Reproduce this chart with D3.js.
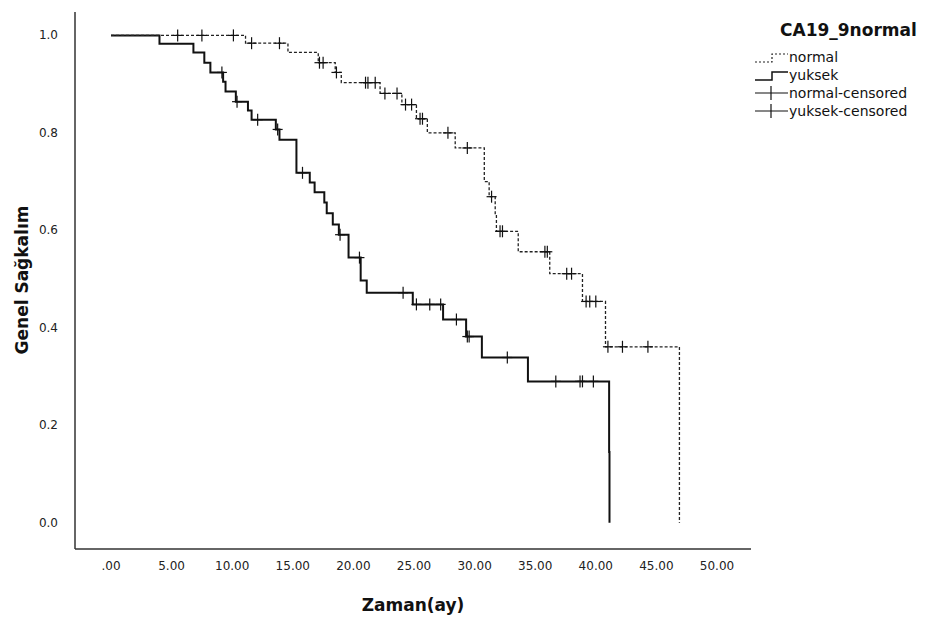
<!DOCTYPE html>
<html>
<head>
<meta charset="utf-8">
<script src="https://cdn.jsdelivr.net/npm/d3@7"></script>
<style>
  body { margin: 0; background: #fff; }
  text { font-family: "DejaVu Sans", sans-serif; }
</style>
</head>
<body>
<script>
// Kaplan-Meier steps: [time (ay), survival]
var normalSteps = [[0, 1], [11.1, 0.984], [14.6, 0.965], [17.1, 0.944], [18.5, 0.924], [19.0, 0.903],
                   [22.2, 0.881], [24.0, 0.858], [25.2, 0.829], [26.1, 0.800], [28.4, 0.769],
                   [30.8, 0.700], [31.2, 0.669], [31.7, 0.632], [31.8, 0.598], [33.6, 0.556],
                   [36.2, 0.511], [38.9, 0.454], [40.8, 0.361], [46.9, 0]];
var normalCensored = [[5.5, 1], [7.5, 1], [10.1, 1], [11.6, 0.984], [13.9, 0.984], [17.2, 0.944],
                      [17.5, 0.944], [18.6, 0.924], [21.0, 0.903], [21.2, 0.903], [21.8, 0.903],
                      [22.6, 0.881], [23.6, 0.881], [24.3, 0.858], [24.8, 0.858], [25.5, 0.829],
                      [25.7, 0.829], [27.8, 0.800], [29.4, 0.769], [31.4, 0.669], [32.1, 0.598],
                      [32.3, 0.598], [35.8, 0.556], [36.0, 0.556], [37.6, 0.511], [38.0, 0.511],
                      [39.2, 0.454], [39.5, 0.454], [40.0, 0.454], [41.0, 0.361], [42.2, 0.361],
                      [44.3, 0.361]];
var yuksekSteps = [[0, 1], [4.0, 0.983], [6.8, 0.965], [7.7, 0.944], [8.2, 0.924], [9.25, 0.905],
                   [9.45, 0.885], [10.3, 0.864], [11.3, 0.846], [11.6, 0.827], [13.6, 0.807],
                   [13.9, 0.786], [15.3, 0.718], [16.4, 0.698], [16.8, 0.678], [17.6, 0.657],
                   [17.8, 0.635], [18.3, 0.612], [18.8, 0.591], [19.6, 0.544], [20.6, 0.497],
                   [21.1, 0.472], [24.9, 0.448], [27.4, 0.417], [29.3, 0.382], [30.6, 0.339],
                   [34.4, 0.290], [41.1, 0.145], [41.13, 0]];
var yuksekCensored = [[9.15, 0.924], [10.4, 0.864], [12.1, 0.827], [13.75, 0.807], [15.8, 0.718],
                      [18.9, 0.591], [20.5, 0.544], [24.1, 0.472], [25.2, 0.448], [26.3, 0.448],
                      [27.2, 0.448], [28.5, 0.417], [29.4, 0.382], [29.55, 0.382], [32.7, 0.339],
                      [36.7, 0.290], [38.7, 0.290], [38.9, 0.290], [39.8, 0.290]];

var xTicks = [0, 5, 10, 15, 20, 25, 30, 35, 40, 45, 50];
var yTicks = [0, 0.2, 0.4, 0.6, 0.8, 1.0];
var legendTitle = "CA19_9normal";
var legendLabels = ["normal", "yuksek", "normal-censored", "yuksek-censored"];

var width = 931, height = 621;

var svg = d3.select("body").append("svg")
  .attr("width", width)
  .attr("height", height);

var x = d3.scaleLinear().domain([0, 50]).range([111, 717]);
var y = d3.scaleLinear().domain([0, 1]).range([522.7, 35.4]);

// axis lines (no tick marks)
var plotLeft = 75, plotRight = 751, plotBottom = 549, plotTop = 12;
svg.append("line")
  .attr("x1", plotLeft).attr("x2", plotLeft)
  .attr("y1", plotTop).attr("y2", plotBottom)
  .attr("stroke", "#333").attr("stroke-width", 1.5);
svg.append("line")
  .attr("x1", plotLeft).attr("x2", plotRight)
  .attr("y1", plotBottom).attr("y2", plotBottom)
  .attr("stroke", "#333").attr("stroke-width", 1.5);

svg.selectAll(".xt").data(xTicks).enter().append("text")
  .attr("x", function(d) { return x(d); })
  .attr("y", 570)
  .attr("text-anchor", "middle")
  .attr("font-size", 12)
  .attr("fill", "#222")
  .text(function(d) { return d === 0 ? ".00" : d3.format(".2f")(d); });

svg.selectAll(".yt").data(yTicks).enter().append("text")
  .attr("x", 58)
  .attr("y", function(d) { return y(d) + 4; })
  .attr("text-anchor", "end")
  .attr("font-size", 12)
  .attr("fill", "#222")
  .text(function(d) { return d3.format(".1f")(d); });

// axis titles
svg.append("text")
  .attr("x", (plotLeft + plotRight) / 2)
  .attr("y", 611)
  .attr("text-anchor", "middle")
  .attr("font-size", 17)
  .attr("font-weight", "bold")
  .attr("fill", "#111")
  .text("Zaman(ay)");
svg.append("text")
  .attr("transform", "translate(28,280) rotate(-90)")
  .attr("text-anchor", "middle")
  .attr("font-size", 17)
  .attr("font-weight", "bold")
  .attr("fill", "#111")
  .text("Genel Sağkalım");

var line = d3.line()
  .x(function(d) { return x(d[0]); })
  .y(function(d) { return y(d[1]); })
  .curve(d3.curveStepAfter);

// curves
svg.append("path")
  .datum(yuksekSteps)
  .attr("d", line)
  .attr("fill", "none")
  .attr("stroke", "#111")
  .attr("stroke-width", 2);
svg.append("path")
  .datum(normalSteps)
  .attr("d", line)
  .attr("fill", "none")
  .attr("stroke", "#222")
  .attr("stroke-width", 1.3)
  .attr("stroke-dasharray", "3,2");

// censored marks
function drawCensored(data, w) {
  var g = svg.append("g");
  data.forEach(function(d) {
    var cx = x(d[0]), cy = y(d[1]);
    g.append("line").attr("x1", cx).attr("x2", cx).attr("y1", cy - 6).attr("y2", cy + 6)
      .attr("stroke", "#111").attr("stroke-width", w);
    g.append("line").attr("x1", cx - 5).attr("x2", cx + 5).attr("y1", cy).attr("y2", cy)
      .attr("stroke", "#111").attr("stroke-width", w);
  });
}
drawCensored(normalCensored, 1.2);
drawCensored(yuksekCensored, 1.2);

// legend
var lg = svg.append("g");
lg.append("text")
  .attr("x", 780).attr("y", 36)
  .attr("font-size", 17).attr("font-weight", "bold").attr("fill", "#111")
  .text(legendTitle);
legendLabels.forEach(function(lab, i) {
  var cy = 57 + i * 18;
  lg.append("text")
    .attr("x", 789).attr("y", cy + 5)
    .attr("font-size", 14).attr("fill", "#111")
    .text(lab);
});
// normal symbol: dashed step
lg.append("path")
  .attr("d", "M755,62H772V54H788")
  .attr("fill", "none").attr("stroke", "#222").attr("stroke-width", 1.2)
  .attr("stroke-dasharray", "2,2");
// yuksek symbol: solid step
lg.append("path")
  .attr("d", "M755,80H772V72H788")
  .attr("fill", "none").attr("stroke", "#111").attr("stroke-width", 1.5);
[93, 111].forEach(function(cy) {
  lg.append("line").attr("x1", 755).attr("x2", 788).attr("y1", cy).attr("y2", cy)
    .attr("stroke", "#111").attr("stroke-width", 1.2);
  lg.append("line").attr("x1", 771).attr("x2", 771).attr("y1", cy - 7).attr("y2", cy + 7)
    .attr("stroke", "#111").attr("stroke-width", 1.2);
});
</script>
</body>
</html>
